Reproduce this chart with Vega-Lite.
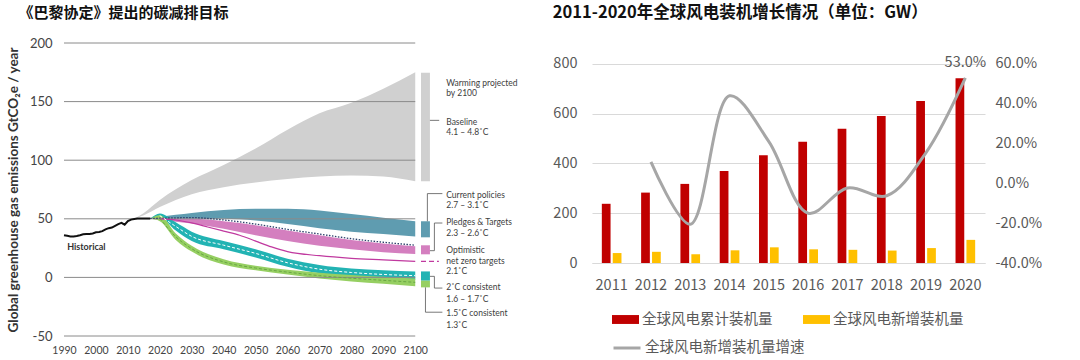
{
  "$schema": "https://vega.github.io/schema/vega-lite/v6.json",
  "padding": {"left": 6, "top": 4, "right": 0, "bottom": 0},
  "spacing": 25,
  "config": {"view": {"stroke": null}},
  "resolve": {"scale": {"color": "independent", "stroke": "independent"}, "legend": {"color": "independent", "stroke": "independent"}},
  "datasets": {
    "bands": [
      {"s": "baseline", "year": 2012, "lo": 50, "hi": 50},
      {"s": "baseline", "year": 2015, "lo": 53, "hi": 55},
      {"s": "baseline", "year": 2020, "lo": 60, "hi": 66},
      {"s": "baseline", "year": 2030, "lo": 71, "hi": 83},
      {"s": "baseline", "year": 2040, "lo": 77, "hi": 96},
      {"s": "baseline", "year": 2050, "lo": 81, "hi": 110},
      {"s": "baseline", "year": 2060, "lo": 84, "hi": 126},
      {"s": "baseline", "year": 2070, "lo": 86, "hi": 140},
      {"s": "baseline", "year": 2080, "lo": 87, "hi": 149},
      {"s": "baseline", "year": 2090, "lo": 86, "hi": 161},
      {"s": "baseline", "year": 2100, "lo": 82, "hi": 175},
      {"s": "current", "year": 2017, "lo": 50, "hi": 50},
      {"s": "current", "year": 2020, "lo": 50, "hi": 51.5},
      {"s": "current", "year": 2030, "lo": 50, "hi": 55},
      {"s": "current", "year": 2040, "lo": 50, "hi": 57.5},
      {"s": "current", "year": 2050, "lo": 48.5, "hi": 58.5},
      {"s": "current", "year": 2060, "lo": 45.5, "hi": 58.5},
      {"s": "current", "year": 2070, "lo": 42, "hi": 57},
      {"s": "current", "year": 2080, "lo": 39, "hi": 54},
      {"s": "current", "year": 2090, "lo": 37, "hi": 51},
      {"s": "current", "year": 2100, "lo": 35, "hi": 48},
      {"s": "pledges", "year": 2017, "lo": 50, "hi": 50},
      {"s": "pledges", "year": 2020, "lo": 49, "hi": 50},
      {"s": "pledges", "year": 2030, "lo": 46, "hi": 50},
      {"s": "pledges", "year": 2040, "lo": 41.5, "hi": 48},
      {"s": "pledges", "year": 2050, "lo": 36, "hi": 44.5},
      {"s": "pledges", "year": 2060, "lo": 31, "hi": 40},
      {"s": "pledges", "year": 2070, "lo": 27, "hi": 36},
      {"s": "pledges", "year": 2080, "lo": 24, "hi": 32},
      {"s": "pledges", "year": 2090, "lo": 21.5, "hi": 29},
      {"s": "pledges", "year": 2100, "lo": 20, "hi": 26.5},
      {"s": "c2", "year": 2017, "lo": 50, "hi": 50},
      {"s": "c2", "year": 2020, "lo": 51, "hi": 54.5},
      {"s": "c2", "year": 2025, "lo": 40, "hi": 47},
      {"s": "c2", "year": 2030, "lo": 31, "hi": 39},
      {"s": "c2", "year": 2040, "lo": 24, "hi": 31},
      {"s": "c2", "year": 2050, "lo": 17, "hi": 24},
      {"s": "c2", "year": 2060, "lo": 9, "hi": 16},
      {"s": "c2", "year": 2070, "lo": 3.5, "hi": 10.5},
      {"s": "c2", "year": 2080, "lo": 1, "hi": 7.5},
      {"s": "c2", "year": 2090, "lo": -1, "hi": 6},
      {"s": "c2", "year": 2100, "lo": -2, "hi": 5},
      {"s": "c15", "year": 2017, "lo": 50, "hi": 50},
      {"s": "c15", "year": 2020, "lo": 48, "hi": 53},
      {"s": "c15", "year": 2025, "lo": 32, "hi": 37.5},
      {"s": "c15", "year": 2030, "lo": 22, "hi": 27},
      {"s": "c15", "year": 2040, "lo": 11, "hi": 15.5},
      {"s": "c15", "year": 2050, "lo": 6, "hi": 10},
      {"s": "c15", "year": 2060, "lo": 2.5, "hi": 6.5},
      {"s": "c15", "year": 2070, "lo": -1, "hi": 4},
      {"s": "c15", "year": 2080, "lo": -3.5, "hi": 2},
      {"s": "c15", "year": 2090, "lo": -5.5, "hi": 0.5},
      {"s": "c15", "year": 2100, "lo": -7.5, "hi": -1}
    ],
    "lines": [
      {"s": "hist", "year": 1990, "v": 36}, {"s": "hist", "year": 1991, "v": 35.5}, {"s": "hist", "year": 1992, "v": 35},
      {"s": "hist", "year": 1993, "v": 35}, {"s": "hist", "year": 1994, "v": 35.3}, {"s": "hist", "year": 1995, "v": 36},
      {"s": "hist", "year": 1996, "v": 36.8}, {"s": "hist", "year": 1997, "v": 37}, {"s": "hist", "year": 1998, "v": 37},
      {"s": "hist", "year": 1999, "v": 37.5}, {"s": "hist", "year": 2000, "v": 38.5}, {"s": "hist", "year": 2001, "v": 38.8},
      {"s": "hist", "year": 2002, "v": 39.5}, {"s": "hist", "year": 2003, "v": 41}, {"s": "hist", "year": 2004, "v": 42},
      {"s": "hist", "year": 2005, "v": 42.5}, {"s": "hist", "year": 2006, "v": 44}, {"s": "hist", "year": 2007, "v": 45.5},
      {"s": "hist", "year": 2008, "v": 46.5}, {"s": "hist", "year": 2009, "v": 45}, {"s": "hist", "year": 2010, "v": 48},
      {"s": "hist", "year": 2011, "v": 49.3}, {"s": "hist", "year": 2012, "v": 49.8}, {"s": "hist", "year": 2013, "v": 50.2},
      {"s": "hist", "year": 2014, "v": 50.2}, {"s": "hist", "year": 2015, "v": 50.3}, {"s": "hist", "year": 2016, "v": 50.3},
      {"s": "hist", "year": 2017, "v": 50.3},
      {"s": "dotted", "year": 2017, "v": 50.3}, {"s": "dotted", "year": 2020, "v": 50.5}, {"s": "dotted", "year": 2030, "v": 51},
      {"s": "dotted", "year": 2040, "v": 49}, {"s": "dotted", "year": 2050, "v": 45.5}, {"s": "dotted", "year": 2060, "v": 41},
      {"s": "dotted", "year": 2070, "v": 37}, {"s": "dotted", "year": 2080, "v": 33}, {"s": "dotted", "year": 2090, "v": 30},
      {"s": "dotted", "year": 2100, "v": 27.5},
      {"s": "netzero", "year": 2020, "v": 50}, {"s": "netzero", "year": 2025, "v": 49}, {"s": "netzero", "year": 2030, "v": 46.5},
      {"s": "netzero", "year": 2035, "v": 43}, {"s": "netzero", "year": 2040, "v": 39.5}, {"s": "netzero", "year": 2045, "v": 36},
      {"s": "netzero", "year": 2050, "v": 31}, {"s": "netzero", "year": 2055, "v": 26}, {"s": "netzero", "year": 2060, "v": 22},
      {"s": "netzero", "year": 2070, "v": 18.5}, {"s": "netzero", "year": 2080, "v": 16.3}, {"s": "netzero", "year": 2090, "v": 15},
      {"s": "netzero", "year": 2100, "v": 13.7},
      {"s": "c2mid", "year": 2020, "v": 52.7}, {"s": "c2mid", "year": 2025, "v": 43.5}, {"s": "c2mid", "year": 2030, "v": 35},
      {"s": "c2mid", "year": 2040, "v": 27.5}, {"s": "c2mid", "year": 2050, "v": 20.5}, {"s": "c2mid", "year": 2060, "v": 12.5},
      {"s": "c2mid", "year": 2070, "v": 7}, {"s": "c2mid", "year": 2080, "v": 4.2}, {"s": "c2mid", "year": 2090, "v": 2.5},
      {"s": "c2mid", "year": 2100, "v": 1.5},
      {"s": "c15mid", "year": 2020, "v": 50.5}, {"s": "c15mid", "year": 2025, "v": 34.7}, {"s": "c15mid", "year": 2030, "v": 24.5},
      {"s": "c15mid", "year": 2040, "v": 13.2}, {"s": "c15mid", "year": 2050, "v": 8}, {"s": "c15mid", "year": 2060, "v": 4.5},
      {"s": "c15mid", "year": 2070, "v": 1.5}, {"s": "c15mid", "year": 2080, "v": -0.7}, {"s": "c15mid", "year": 2090, "v": -2.5},
      {"s": "c15mid", "year": 2100, "v": -4.2}
    ],
    "grid": [{"g": -50}, {"g": 0}, {"g": 50}, {"g": 100}, {"g": 150}, {"g": 200}],
    "keys": [
      {"s": "baseline", "lo": 82, "hi": 174.6},
      {"s": "current", "lo": 34.2, "hi": 47.9},
      {"s": "pledges", "lo": 19.7, "hi": 27.4},
      {"s": "c2", "lo": -2.8, "hi": 5.1},
      {"s": "c15", "lo": -8.5, "hi": -2.8}
    ],
    "optkey": [{"x1": 2101.8, "x2": 2107.4, "v": 13.7}],
    "brackets": [
      {"x1": 2104.6, "x2": 2107.5, "y1": 134, "y2": 134},
      {"x1": 2103.8, "x2": 2103.8, "y1": 47.9, "y2": 71.5},
      {"x1": 2103.8, "x2": 2108.5, "y1": 71.5, "y2": 71.5},
      {"x1": 2104.6, "x2": 2106, "y1": 22.8, "y2": 22.8},
      {"x1": 2106, "x2": 2106, "y1": 22.8, "y2": 46.4},
      {"x1": 2106, "x2": 2108.5, "y1": 46.4, "y2": 46.4},
      {"x1": 2104.6, "x2": 2106, "y1": 0.9, "y2": 0.9},
      {"x1": 2106, "x2": 2106, "y1": 0.9, "y2": -9.1},
      {"x1": 2106, "x2": 2108.5, "y1": -9.1, "y2": -9.1},
      {"x1": 2103.2, "x2": 2103.2, "y1": -8.5, "y2": -29.7},
      {"x1": 2103.2, "x2": 2108.5, "y1": -29.7, "y2": -29.7}
    ],
    "notes": [
      {"t": "Warming projected", "year": 2109.7, "v": 166},
      {"t": "by 2100", "year": 2109.7, "v": 157},
      {"t": "Baseline", "year": 2109.7, "v": 133},
      {"t": "4.1 – 4.8˚C", "year": 2109.7, "v": 123.7},
      {"t": "Current policies", "year": 2109.7, "v": 70.7},
      {"t": "2.7 – 3.1˚C", "year": 2109.7, "v": 61.5},
      {"t": "Pledges & Targets", "year": 2109.7, "v": 47},
      {"t": "2.3 – 2.6˚C", "year": 2109.7, "v": 37.6},
      {"t": "Optimistic", "year": 2109.7, "v": 23.7},
      {"t": "net zero targets", "year": 2109.7, "v": 13.7},
      {"t": "2.1˚C", "year": 2109.7, "v": 5.1},
      {"t": "2˚C consistent", "year": 2109.7, "v": -8.5},
      {"t": "1.6 – 1.7˚C", "year": 2109.7, "v": -18.2},
      {"t": "1.5˚C consistent", "year": 2109.7, "v": -30.8},
      {"t": "1.3˚C", "year": 2109.7, "v": -40.4}
    ],
    "histlabel": [{"t": "Historical", "year": 1991, "v": 25.6}],
    "bars": [
      {"year": 2011, "series": "全球风电累计装机量", "value": 238},
      {"year": 2012, "series": "全球风电累计装机量", "value": 283},
      {"year": 2013, "series": "全球风电累计装机量", "value": 318},
      {"year": 2014, "series": "全球风电累计装机量", "value": 370},
      {"year": 2015, "series": "全球风电累计装机量", "value": 433},
      {"year": 2016, "series": "全球风电累计装机量", "value": 487},
      {"year": 2017, "series": "全球风电累计装机量", "value": 540},
      {"year": 2018, "series": "全球风电累计装机量", "value": 591},
      {"year": 2019, "series": "全球风电累计装机量", "value": 651},
      {"year": 2020, "series": "全球风电累计装机量", "value": 743},
      {"year": 2011, "series": "全球风电新增装机量", "value": 40},
      {"year": 2012, "series": "全球风电新增装机量", "value": 45},
      {"year": 2013, "series": "全球风电新增装机量", "value": 35},
      {"year": 2014, "series": "全球风电新增装机量", "value": 51},
      {"year": 2015, "series": "全球风电新增装机量", "value": 63},
      {"year": 2016, "series": "全球风电新增装机量", "value": 55},
      {"year": 2017, "series": "全球风电新增装机量", "value": 53},
      {"year": 2018, "series": "全球风电新增装机量", "value": 50},
      {"year": 2019, "series": "全球风电新增装机量", "value": 60},
      {"year": 2020, "series": "全球风电新增装机量", "value": 93}
    ],
    "growth": [
      {"year": 2012, "rate": 0.108, "name": "全球风电新增装机量增速", "label": ""},
      {"year": 2013, "rate": -0.205, "name": "全球风电新增装机量增速", "label": ""},
      {"year": 2014, "rate": 0.44, "name": "全球风电新增装机量增速", "label": ""},
      {"year": 2015, "rate": 0.21, "name": "全球风电新增装机量增速", "label": ""},
      {"year": 2016, "rate": -0.15, "name": "全球风电新增装机量增速", "label": ""},
      {"year": 2017, "rate": -0.023, "name": "全球风电新增装机量增速", "label": ""},
      {"year": 2018, "rate": -0.062, "name": "全球风电新增装机量增速", "label": ""},
      {"year": 2019, "rate": 0.155, "name": "全球风电新增装机量增速", "label": ""},
      {"year": 2020, "rate": 0.53, "name": "全球风电新增装机量增速", "label": "53.0%"}
    ]
  },
  "hconcat": [
    {
      "width": 463,
      "height": 293,
      "title": {"text": "《巴黎协定》提出的碳减排目标", "anchor": "start", "font": "Noto Sans CJK SC", "fontSize": 15, "fontWeight": "bold", "color": "#111111", "offset": 16, "dx": 12},
      "layer": [
        {
          "data": {"name": "bands"},
          "transform": [{"filter": "datum.s == 'baseline'"}],
          "mark": {"type": "area", "interpolate": "monotone", "color": "#d0d0d0"},
          "encoding": {
            "x": {"field": "year", "type": "quantitative", "scale": {"domain": [1990, 2135], "nice": false, "zero": false},
              "axis": {"title": null, "values": [1990, 2000, 2010, 2020, 2030, 2040, 2050, 2060, 2070, 2080, 2090, 2100], "format": "d", "grid": false, "domain": false, "ticks": false, "labelFont": "Lato", "labelFontSize": 10.5, "labelColor": "#444444", "labelPadding": 9, "labelOverlap": false, "labelFlush": false}},
            "y": {"field": "lo", "type": "quantitative", "scale": {"domain": [-50, 200], "nice": false, "zero": false},
              "axis": {"title": "Global greenhouse gas emissions GtCO₂e / year", "titleFont": "Lato", "titleFontSize": 13.5, "titleFontWeight": "bold", "titleColor": "#333333", "titlePadding": 9, "values": [-50, 0, 50, 100, 150, 200], "labelExpr": "replace(format(datum.value, 'd'), '\u2212', '-')", "grid": false, "domain": false, "ticks": false, "labelFont": "Lato", "labelFontSize": 13, "labelColor": "#444444", "labelPadding": 12}},
            "y2": {"field": "hi"}
          }
        },
        {
          "data": {"name": "bands"},
          "transform": [{"filter": "datum.s == 'current'"}],
          "mark": {"type": "area", "interpolate": "monotone", "color": "#5f9cb0"},
          "encoding": {"x": {"field": "year", "type": "quantitative"}, "y": {"field": "lo", "type": "quantitative"}, "y2": {"field": "hi"}}
        },
        {
          "data": {"name": "bands"},
          "transform": [{"filter": "datum.s == 'pledges'"}],
          "mark": {"type": "area", "interpolate": "monotone", "color": "#d47fbf"},
          "encoding": {"x": {"field": "year", "type": "quantitative"}, "y": {"field": "lo", "type": "quantitative"}, "y2": {"field": "hi"}}
        },
        {
          "data": {"name": "bands"},
          "transform": [{"filter": "datum.s == 'c2'"}],
          "mark": {"type": "area", "interpolate": "monotone", "color": "#22b3b3"},
          "encoding": {"x": {"field": "year", "type": "quantitative"}, "y": {"field": "lo", "type": "quantitative"}, "y2": {"field": "hi"}}
        },
        {
          "data": {"name": "bands"},
          "transform": [{"filter": "datum.s == 'c15'"}],
          "mark": {"type": "area", "interpolate": "monotone", "color": "#96cf62"},
          "encoding": {"x": {"field": "year", "type": "quantitative"}, "y": {"field": "lo", "type": "quantitative"}, "y2": {"field": "hi"}}
        },
        {
          "data": {"name": "grid"},
          "mark": {"type": "rule", "color": "#8a8a8a", "strokeWidth": 1},
          "encoding": {"y": {"field": "g", "type": "quantitative"}, "x": {"datum": 1990}, "x2": {"datum": 2100}}
        },
        {
          "data": {"name": "lines"},
          "transform": [{"filter": "datum.s == 'dotted'"}],
          "mark": {"type": "line", "interpolate": "monotone", "color": "#2c3e6b", "strokeWidth": 1.3, "strokeDash": [1.5, 1.5]},
          "encoding": {"x": {"field": "year", "type": "quantitative"}, "y": {"field": "v", "type": "quantitative"}}
        },
        {
          "data": {"name": "lines"},
          "transform": [{"filter": "datum.s == 'netzero'"}],
          "mark": {"type": "line", "interpolate": "monotone", "color": "#c0399f", "strokeWidth": 1.2},
          "encoding": {"x": {"field": "year", "type": "quantitative"}, "y": {"field": "v", "type": "quantitative"}}
        },
        {
          "data": {"name": "lines"},
          "transform": [{"filter": "datum.s == 'c2mid'"}],
          "mark": {"type": "line", "interpolate": "monotone", "color": "#ffffff", "strokeWidth": 1, "strokeDash": [3, 2]},
          "encoding": {"x": {"field": "year", "type": "quantitative"}, "y": {"field": "v", "type": "quantitative"}}
        },
        {
          "data": {"name": "lines"},
          "transform": [{"filter": "datum.s == 'c15mid'"}],
          "mark": {"type": "line", "interpolate": "monotone", "color": "#6aa744", "strokeWidth": 1, "strokeDash": [3, 2]},
          "encoding": {"x": {"field": "year", "type": "quantitative"}, "y": {"field": "v", "type": "quantitative"}}
        },
        {
          "data": {"name": "lines"},
          "transform": [{"filter": "datum.s == 'hist'"}],
          "mark": {"type": "line", "color": "#111111", "strokeWidth": 2},
          "encoding": {"x": {"field": "year", "type": "quantitative"}, "y": {"field": "v", "type": "quantitative"}}
        },
        {
          "data": {"name": "keys"},
          "mark": {"type": "rect"},
          "encoding": {
            "x": {"datum": 2101.8}, "x2": {"datum": 2104.6},
            "y": {"field": "lo", "type": "quantitative"}, "y2": {"field": "hi"},
            "color": {"field": "s", "type": "nominal", "legend": null,
              "scale": {"domain": ["baseline", "current", "pledges", "c2", "c15"], "range": ["#d0d0d0", "#5f9cb0", "#d47fbf", "#22b3b3", "#96cf62"]}}
          }
        },
        {
          "data": {"name": "optkey"},
          "mark": {"type": "rule", "color": "#c0399f", "strokeWidth": 1.2, "strokeDash": [5, 3]},
          "encoding": {"x": {"field": "x1", "type": "quantitative"}, "x2": {"field": "x2"}, "y": {"field": "v", "type": "quantitative"}}
        },
        {
          "data": {"name": "brackets"},
          "mark": {"type": "rule", "color": "#555555", "strokeWidth": 0.8},
          "encoding": {"x": {"field": "x1", "type": "quantitative"}, "x2": {"field": "x2"}, "y": {"field": "y1", "type": "quantitative"}, "y2": {"field": "y2"}}
        },
        {
          "data": {"name": "notes"},
          "mark": {"type": "text", "align": "left", "baseline": "middle", "font": "Lato", "fontSize": 8.5, "color": "#404040"},
          "encoding": {"x": {"field": "year", "type": "quantitative"}, "y": {"field": "v", "type": "quantitative"}, "text": {"field": "t"}}
        },
        {
          "data": {"name": "histlabel"},
          "mark": {"type": "text", "align": "left", "baseline": "middle", "font": "Lato", "fontSize": 9, "fontWeight": "bold", "color": "#333333"},
          "encoding": {"x": {"field": "year", "type": "quantitative"}, "y": {"field": "v", "type": "quantitative"}, "text": {"field": "t"}}
        }
      ]
    },
    {
      "width": 393,
      "height": 220,
      "title": {"text": "2011-2020年全球风电装机增长情况（单位：GW）", "anchor": "start", "font": "Noto Sans CJK SC", "fontSize": 16.5, "fontWeight": "bold", "color": "#111111", "offset": 22},
      "layer": [
        {
          "data": {"name": "bars"},
          "mark": {"type": "bar"},
          "encoding": {
            "x": {"field": "year", "type": "ordinal", "scale": {"paddingInner": 0.5, "paddingOuter": 0.25},
              "axis": {"title": null, "labelAngle": 0, "labelFont": "Noto Sans CJK SC", "labelFontSize": 14.5, "labelColor": "#595959", "ticks": false, "domain": true, "domainColor": "#d9d9d9", "labelPadding": 15}},
            "xOffset": {"field": "series", "type": "nominal", "scale": {"domain": ["全球风电累计装机量", "全球风电新增装机量"], "paddingInner": 0.2}},
            "y": {"field": "value", "type": "quantitative", "scale": {"domain": [0, 884.4], "nice": false},
              "axis": {"title": null, "values": [0, 200, 400, 600, 800], "grid": true, "gridColor": "#d9d9d9", "domain": false, "ticks": false, "labelFont": "Noto Sans CJK SC", "labelFontSize": 14.5, "labelColor": "#595959", "labelPadding": 15, "labelOverlap": false}},
            "color": {"field": "series", "type": "nominal",
              "scale": {"domain": ["全球风电累计装机量", "全球风电新增装机量"], "range": ["#c00000", "#ffc000"]},
              "legend": {"orient": "none", "legendX": 20, "legendY": 263, "direction": "horizontal", "title": null, "symbolType": "M-1,-0.33H1V0.33H-1Z", "symbolSize": 729, "symbolStrokeWidth": 0, "labelFont": "Noto Sans CJK SC", "labelFontSize": 14.5, "labelColor": "#595959", "labelOffset": 3, "columnPadding": 30, "padding": 0}}
          }
        },
        {
          "layer": [
            {
              "data": {"name": "growth"},
              "mark": {"type": "line", "interpolate": "catmull-rom", "strokeWidth": 3},
              "encoding": {
                "x": {"field": "year", "type": "ordinal"},
                "y": {"field": "rate", "type": "quantitative", "scale": {"domain": [-0.4, 0.7055], "nice": false},
                  "axis": {"orient": "right", "title": null, "values": [-0.4, -0.2, 0, 0.2, 0.4, 0.6], "labelExpr": "replace(format(datum.value, '.1%'), '\u2212', '-')", "grid": false, "domain": false, "ticks": false, "labelFont": "Noto Sans CJK SC", "labelFontSize": 14.5, "labelColor": "#595959", "labelPadding": 10, "labelOverlap": false}},
                "stroke": {"field": "name", "type": "nominal",
                  "scale": {"domain": ["全球风电新增装机量增速"], "range": ["#a6a6a6"]},
                  "legend": {"orient": "none", "legendX": 20, "legendY": 290, "title": null, "symbolType": "stroke", "symbolSize": 729, "symbolStrokeWidth": 3, "labelFont": "Noto Sans CJK SC", "labelFontSize": 14.5, "labelColor": "#595959", "labelOffset": 3, "padding": 0}}
              }
            },
            {
              "data": {"name": "growth"},
              "transform": [{"filter": "datum.label != ''"}],
              "mark": {"type": "text", "dy": -15, "font": "Noto Sans CJK SC", "fontSize": 14.5, "color": "#595959", "baseline": "middle", "align": "center"},
              "encoding": {
                "x": {"field": "year", "type": "ordinal"},
                "y": {"field": "rate", "type": "quantitative"},
                "text": {"field": "label"}
              }
            }
          ]
        }
      ],
      "resolve": {"scale": {"y": "independent"}}
    }
  ]
}
